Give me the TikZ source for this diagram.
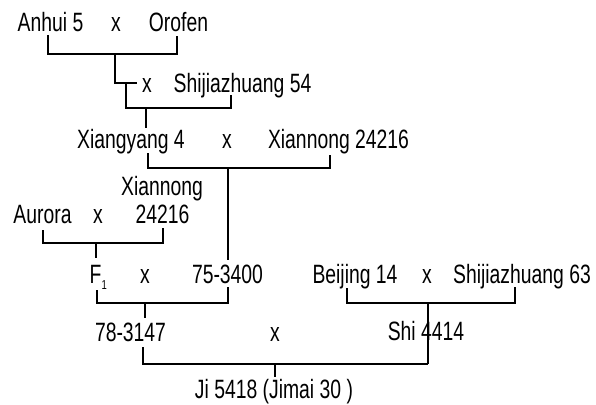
\documentclass[tikz,border=0pt]{standalone}
\usepackage{fontspec}
\setmainfont{Liberation Sans}[FakeStretch=0.73]
\begin{document}
\begin{tikzpicture}[x=1pt,y=-1pt,
  lbl/.style={anchor=base,inner sep=0pt,font=\fontsize{26.5}{30}\selectfont},
  lblw/.style={lbl,anchor=base west},
  ln/.style={line width=2.6pt,line join=miter,line cap=butt}]
\useasboundingbox (0,0) rectangle (596,404);
% texts
\node[lbl] (anhui) at (50.5,32) {Anhui 5};
\node[lbl] (x1) at (116,32) {x};
\node[lbl] (orofen) at (178.5,32) {Orofen};
\node[lbl] (x2) at (147,92) {x};
\node[lbl] (shi54) at (242.5,92) {Shijiazhuang 54};
\node[lbl] (xiangyang) at (131,148) {Xiangyang 4};
\node[lbl] (x3) at (227,148) {x};
\node[lbl] (xn1) at (338.5,148) {Xiannong 24216};
\node[lbl] (xn2a) at (162,195) {Xiannong};
\node[lbl] (xn2b) at (162.5,223) {24216};
\node[lbl] (aurora) at (42.5,223) {Aurora};
\node[lbl] (x4) at (98,223) {x};
\node[lblw] (f1) at (89.5,283) {F\raisebox{-6pt}{\fontsize{13}{14}\selectfont 1}};
\node[lbl] (x5) at (145,283) {x};
\node[lbl] (n753400) at (227.5,283) {75-3400};
\node[lbl] (beijing) at (355,283) {Beijing 14};
\node[lbl] (x6) at (427,283) {x};
\node[lbl] (shi63) at (522,283) {Shijiazhuang 63};
\node[lbl] (n783147) at (130.5,341) {78-3147};
\node[lbl] (x7) at (275,341) {x};
\node[lbl] (shi4414) at (426,340) {Shi 4414};
\node[lbl] (ji) at (274,398) {Ji 5418 (Jimai 30 )};
% bracket coordinates
\coordinate (a1) at (48,35); \coordinate (a2) at (177,36);
\coordinate (s1) at (126,83); \coordinate (s2) at (231,95);
\coordinate (y1) at (148,153); \coordinate (y2) at (330,155);
\coordinate (r1) at (43,230); \coordinate (r2) at (163,228);
\coordinate (f1b) at (97,290); \coordinate (f2b) at (228,287);
\coordinate (b1) at (347,288); \coordinate (b2) at (515,287);
\coordinate (m1) at (143,347); \coordinate (m2) at (428,364);
% brackets
\draw[ln] (a1) -- (48,54) -- (177,54) -- (a2);
\draw[ln] (115,54) -- (115,83) -- (137,83);
\draw[ln] (s1) -- (126,108) -- (231,108) -- (s2);
\draw[ln] (146,108) -- (146,128);
\draw[ln] (y1) -- (148,168) -- (330,168) -- (y2);
\draw[ln] (228,168) -- (228,260);
\draw[ln] (r1) -- (43,243) -- (163,243) -- (r2);
\draw[ln] (96,243) -- (96,258);
\draw[ln] (f1b) -- (97,303) -- (228,303) -- (f2b);
\draw[ln] (145,303) -- (145,318);
\draw[ln] (b1) -- (347,303) -- (515,303) -- (b2);
\draw[ln] (428,303) -- (m2);
\draw[ln] (m1) -- (143,364) -- (m2);
\draw[ln] (275,364) -- (275,377);
\end{tikzpicture}
\end{document}
